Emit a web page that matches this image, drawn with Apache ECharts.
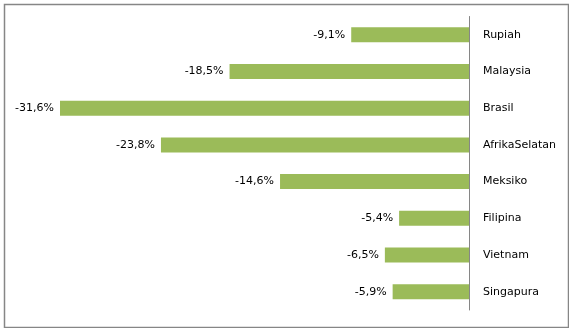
<!DOCTYPE html>
<html>
<head>
<meta charset="utf-8">
<script src="https://cdn.jsdelivr.net/npm/echarts@6/dist/echarts.min.js"></script>
<style>html,body{margin:0;padding:0;background:#fff}#c{width:569px;height:328px}</style>
</head>
<body>
<div id="c"></div>
<script>
const categories = ['Rupiah','Malaysia','Brasil','AfrikaSelatan','Meksiko','Filipina','Vietnam','Singapura'];
const values = [-9.1,-18.5,-31.6,-23.8,-14.6,-5.4,-6.5,-5.9];

const chart = echarts.init(document.getElementById('c'), null, {renderer:'canvas'});
chart.setOption({
  animation:false,
  backgroundColor:'#fff',
  textStyle:{fontFamily:'DejaVu Sans'},
  graphic:[{type:'rect',left:2,top:2,shape:{width:564,height:323},style:{fill:'none',stroke:'#868686',lineWidth:1.5},silent:true}],
  grid:{left:16,right:100,top:16.5,bottom:18,containLabel:false},
  xAxis:{type:'value',min:-35,max:0,show:false},
  yAxis:{type:'category',data:categories,inverse:true,position:'right',
    axisLine:{show:true,lineStyle:{color:'#868686',width:1}},
    axisTick:{show:false},
    axisLabel:{margin:14,color:'#000',fontSize:11,fontFamily:'DejaVu Sans',align:'left'}},
  series:[{type:'bar',data:values,barWidth:15,
    itemStyle:{color:'#9BBB59'},
    label:{show:true,position:'left',distance:6,color:'#000',fontSize:11,fontFamily:'DejaVu Sans',
      formatter:p=>p.value.toFixed(1).replace('.',',')+'%'}}]
});
</script>
</body>
</html>
